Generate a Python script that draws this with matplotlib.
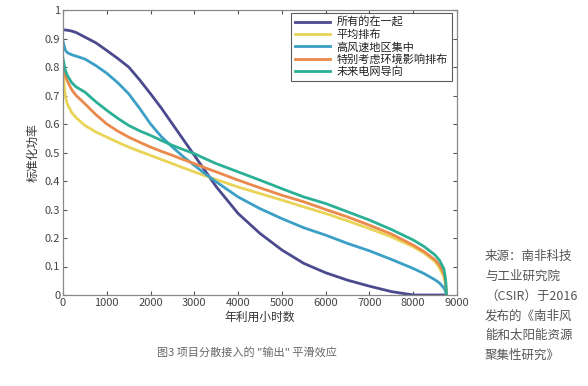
import matplotlib
matplotlib.use("Agg")
import matplotlib.pyplot as plt

plt.rcParams['font.family'] = ['Noto Sans CJK SC', 'DejaVu Sans']

hours = [0, 50, 100, 200, 300, 500, 750, 1000, 1250, 1500, 1750, 2000, 2250, 2500,
         2750, 3000, 3250, 3500, 4000, 4500, 5000, 5500, 6000, 6500, 7000, 7500,
         8000, 8250, 8500, 8600, 8700, 8740, 8760]

all_together = [0.93, 0.93, 0.929, 0.926, 0.921, 0.905, 0.885, 0.858, 0.83, 0.80, 0.755,
                0.706, 0.655, 0.60, 0.545, 0.49, 0.435, 0.38, 0.286, 0.216, 0.158, 0.111,
                0.078, 0.052, 0.031, 0.012, 0.0, 0.0, 0.0, 0.0, 0.0, 0.0, 0.0]
even_layout = [0.78, 0.70, 0.67, 0.64, 0.622, 0.595, 0.572, 0.554, 0.536, 0.519, 0.504,
               0.49, 0.475, 0.461, 0.446, 0.432, 0.418, 0.405, 0.379, 0.356, 0.333, 0.309,
               0.286, 0.26, 0.233, 0.204, 0.169, 0.147, 0.117, 0.095, 0.064, 0.035, 0.0]
high_wind = [0.89, 0.86, 0.85, 0.843, 0.838, 0.828, 0.805, 0.778, 0.745, 0.706, 0.655,
             0.60, 0.555, 0.519, 0.485, 0.455, 0.425, 0.397, 0.344, 0.303, 0.268, 0.236,
             0.21, 0.181, 0.155, 0.125, 0.093, 0.075, 0.053, 0.042, 0.025, 0.012, 0.0]
environment = [0.80, 0.77, 0.75, 0.72, 0.70, 0.671, 0.633, 0.60, 0.575, 0.554, 0.536,
               0.519, 0.504, 0.49, 0.475, 0.461, 0.446, 0.432, 0.403, 0.376, 0.35, 0.327,
               0.30, 0.274, 0.245, 0.214, 0.175, 0.152, 0.123, 0.105, 0.075, 0.045, 0.0]
future_grid = [0.83, 0.79, 0.77, 0.745, 0.73, 0.712, 0.678, 0.648, 0.62, 0.595, 0.576,
               0.56, 0.542, 0.525, 0.51, 0.496, 0.478, 0.461, 0.432, 0.403, 0.373, 0.344,
               0.321, 0.292, 0.263, 0.23, 0.193, 0.17, 0.14, 0.122, 0.092, 0.055, 0.0]

series_names = ['所有的在一起', '平均排布', '高风速地区集中', '特别考虑环境影响排布', '未来电网导向']
series_values = [all_together, even_layout, high_wind, environment, future_grid]
colors = ['#4b4a8e', '#e9d457', '#3b9fc6', '#e98a4c', '#2bb096']

x_ticks = [0, 1000, 2000, 3000, 4000, 5000, 6000, 7000, 8000, 9000]
y_ticks = [0, 0.1, 0.2, 0.3, 0.4, 0.5, 0.6, 0.7, 0.8, 0.9, 1]
y_tick_labels = ['0', '0.1', '0.2', '0.3', '0.4', '0.5', '0.6', '0.7', '0.8', '0.9', '1']

fig = plt.figure(figsize=(5.88, 3.86), dpi=100)
ax = fig.add_axes([63/588, 1-295/386, 394/588, 285/386])

for name, vals, c in zip(series_names, series_values, colors):
    ax.plot(hours, vals, color=c, lw=2.0, label=name, solid_joinstyle='round')

ax.set_xlim(0, 9000)
ax.set_ylim(0, 1)
ax.set_xticks(x_ticks)
ax.set_yticks(y_ticks)
ax.set_yticklabels(y_tick_labels)
ax.tick_params(direction='in', length=3, width=0.8, top=True, right=True,
               labelsize=8, colors='#555555', labelcolor='#444444', pad=2)
for s in ax.spines.values():
    s.set_color('#888888')
    s.set_linewidth(0.9)

ax.set_xlabel('年利用小时数', fontsize=8.5, color='#333333', labelpad=2)
ax.set_ylabel('标准化功率', fontsize=8.5, color='#333333', labelpad=4)

leg = ax.legend(loc='upper right', bbox_to_anchor=(452/588, 1-13/386),
                bbox_transform=fig.transFigure, fontsize=8, frameon=True,
                fancybox=False, edgecolor='#333333', handlelength=3.2,
                handletextpad=0.6, labelspacing=0.15, borderpad=0.35,
                borderaxespad=0)
leg.get_frame().set_linewidth(0.8)
for t in leg.get_texts():
    t.set_color('#222222')

fig.text(247/588, 1-352/386, '图3 项目分散接入的 "输出" 平滑效应', fontsize=8,
         color='#666666', ha='center', va='center')

fig.text(485/588, 1-250/386,
         '来源：南非科技\n与工业研究院\n（CSIR）于2016\n发布的《南非风\n能和太阳能资源\n聚集性研究》',
         fontsize=9, color='#555555', ha='left', va='top', linespacing=1.68)

fig.savefig('out.png', dpi=100)
